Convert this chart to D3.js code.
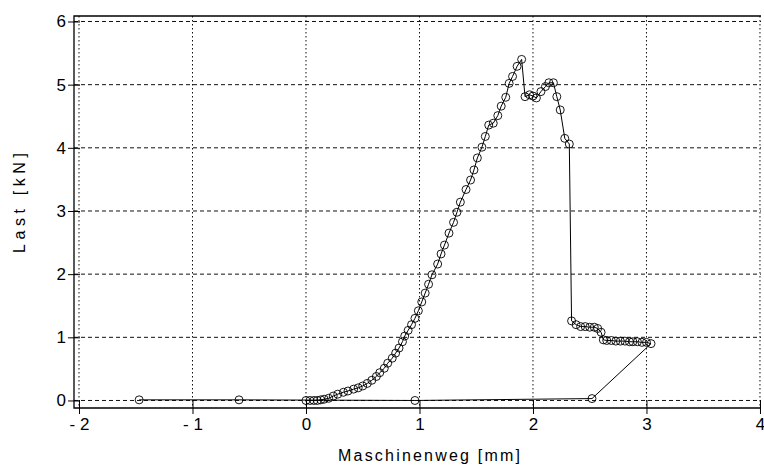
<!DOCTYPE html>
<html><head><meta charset="utf-8">
<script src="https://cdn.jsdelivr.net/npm/d3@7"></script>
<style>body{margin:0;background:#fff} svg{display:block}</style>
</head><body><svg id="c" width="764" height="471"></svg>
<script>
const xTicks = [-2, -1, 0, 1, 2, 3, 4];
const yTicks = [0, 1, 2, 3, 4, 5, 6];
const xTitle = "Maschinenweg [mm]";
const yTitle = "Last [kN]";

const wegX = [0, 0.035, 0.07, 0.10, 0.13, 0.16, 0.20, 0.24, 0.28, 0.33, 0.37, 0.42, 0.46, 0.50, 0.54, 0.58, 0.62, 0.65, 0.69, 0.72, 0.76, 0.79, 0.82, 0.85, 0.87, 0.90, 0.93,
  0.96, 0.99, 1.02, 1.05, 1.08, 1.11, 1.16, 1.19, 1.22, 1.26, 1.30, 1.33, 1.36, 1.41, 1.45, 1.48,
  1.51, 1.55, 1.58, 1.61, 1.65, 1.69, 1.72, 1.76, 1.79, 1.82, 1.86, 1.90,
  1.93, 1.97, 2.00, 2.03, 2.07, 2.11, 2.14, 2.18, 2.21, 2.24, 2.28, 2.32,
  2.34, 2.38, 2.42, 2.46, 2.50, 2.54, 2.57, 2.60, 2.62, 2.65, 2.69, 2.73, 2.77, 2.81, 2.85, 2.88, 2.92, 2.96, 3.00, 3.04,
  2.52, 0.96, -0.59, -1.47];
const lastKN = [0, 0, 0, 0, 0.01, 0.02, 0.035, 0.07, 0.10, 0.13, 0.15, 0.18, 0.20, 0.23, 0.27, 0.32, 0.38, 0.44, 0.51, 0.59, 0.67, 0.75, 0.83, 0.93, 1.02, 1.11, 1.20,
  1.30, 1.42, 1.56, 1.70, 1.84, 1.99, 2.16, 2.32, 2.46, 2.65, 2.82, 2.98, 3.14, 3.34, 3.49, 3.65,
  3.84, 4.01, 4.18, 4.36, 4.39, 4.51, 4.66, 4.80, 5.02, 5.13, 5.29, 5.40,
  4.81, 4.84, 4.82, 4.79, 4.89, 4.97, 5.03, 5.03, 4.81, 4.60, 4.15, 4.06,
  1.26, 1.20, 1.17, 1.17, 1.16, 1.16, 1.14, 1.08, 0.96, 0.95, 0.95, 0.94, 0.94, 0.94, 0.93, 0.93, 0.93, 0.92, 0.92, 0.90,
  0.03, 0.0, 0.01, 0.01];

const data = wegX.map((v, i) => ({x: v, y: lastKN[i]}));

const svg = d3.select("#c");
const L = 74, R = 761, T = 16, B = 408;
const x = d3.scaleLinear().domain([-2.044, 4.009]).range([L, R]);
const y = d3.scaleLinear().domain([-0.119, 6.087]).range([B, T]);
const font = "'Liberation Sans Narrow', 'Liberation Sans', Arial, sans-serif";

// grid
const g = svg.append("g");
g.selectAll("line.h").data(yTicks).join("line")
  .attr("x1", L).attr("x2", R).attr("y1", d => y(d)).attr("y2", d => y(d))
  .attr("stroke", "#111").attr("stroke-width", 1).attr("stroke-dasharray", "4,3");
g.selectAll("line.v").data(xTicks).join("line")
  .attr("x1", d => x(d)).attr("x2", d => x(d)).attr("y1", T).attr("y2", B)
  .attr("stroke", "#111").attr("stroke-width", 1).attr("stroke-dasharray", "1.5,2.5");

// frame
svg.append("path").attr("d", `M${R},${T}H${L}V${B}H${R}`)
  .attr("fill", "none").attr("stroke", "#000").attr("stroke-width", 1.3);

// axes
const fmt = d => d < 0 ? "- " + Math.abs(d) : String(d);
const ax = svg.append("g").attr("transform", `translate(0,${B})`)
  .call(d3.axisBottom(x).tickValues(xTicks).tickFormat(fmt).tickSize(6).tickPadding(4));
ax.select(".domain").remove();
ax.selectAll(".tick line").attr("y1", -8).attr("stroke", "#000");
ax.selectAll("text").attr("font-family", font).attr("font-size", 17).attr("fill", "#000");

const ay = svg.append("g").attr("transform", `translate(${L},0)`)
  .call(d3.axisLeft(y).tickValues(yTicks).tickFormat(fmt).tickSize(6).tickPadding(2));
ay.select(".domain").remove();
ay.selectAll(".tick line").attr("x1", 6).attr("stroke", "#000");
ay.selectAll("text").attr("font-family", font).attr("font-size", 17).attr("fill", "#000");

// titles
svg.append("text").attr("x", 429).attr("y", 461).attr("text-anchor", "middle")
  .attr("font-family", font).attr("font-size", 16)
  .attr("textLength", 182).attr("lengthAdjust", "spacing").text(xTitle);
svg.append("text").attr("transform", "translate(25,203) rotate(-90)").attr("text-anchor", "middle")
  .attr("font-family", font).attr("font-size", 16)
  .attr("textLength", 100).attr("lengthAdjust", "spacing").text(yTitle);

// line + markers
svg.append("path").datum(data)
  .attr("d", d3.line().x(d => x(d.x)).y(d => y(d.y)))
  .attr("fill", "none").attr("stroke", "#000").attr("stroke-width", 1);
svg.selectAll("circle").data(data).join("circle")
  .attr("cx", d => x(d.x)).attr("cy", d => y(d.y)).attr("r", 4)
  .attr("fill", "none").attr("stroke", "#000").attr("stroke-width", 0.9);
</script></body></html>
